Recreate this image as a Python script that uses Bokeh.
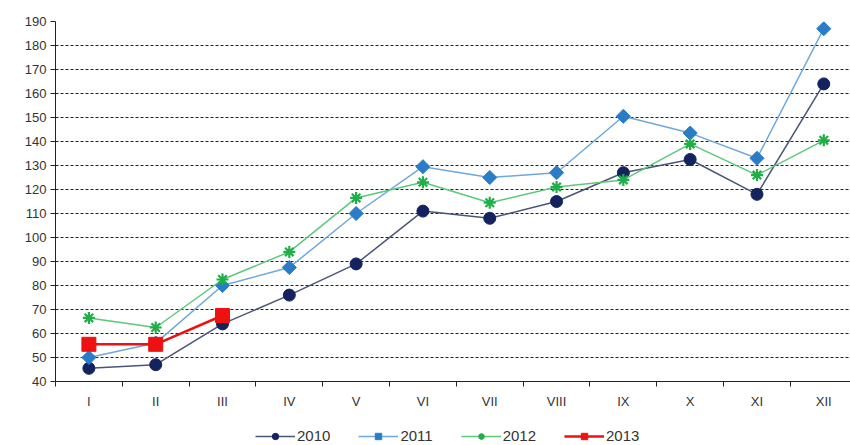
import math
from bokeh.plotting import figure
from bokeh.layouts import column
from bokeh.models import Range1d, FixedTicker, Legend, LegendItem
from bokeh.embed import file_html
from bokeh.resources import INLINE

months = ["I", "II", "III", "IV", "V", "VI", "VII", "VIII", "IX", "X", "XI", "XII"]
y2010 = [45.5, 47, 64, 76, 89, 111, 108, 115, 127, 132.5, 118, 164]
y2011 = [50, 56, 80, 87.5, 110, 129.5, 125, 127, 150.5, 143.5, 133, 187]
y2012 = [66.5, 62.5, 82.5, 94, 116.5, 123, 114.5, 121, 124, 139, 126, 140.5]
y2013 = [55.5, 55.5, 67.5]
years = ["2010", "2011", "2012", "2013"]
y_ticks = list(range(40, 200, 10))

xs = [i + 0.5 for i in range(len(months))]
FONT = "Liberation Sans"

styles = {
    "2010": dict(line=dict(line_color="#4a5578", line_width=1.5),
                 mark=dict(marker="circle", size=12, fill_color="#14235e", line_color="#14235e")),
    "2011": dict(line=dict(line_color="#6fa8dc", line_width=1.5),
                 mark=dict(marker="square", size=10, angle=math.pi / 4,
                           fill_color="#2a7cc7", line_color="#2a7cc7")),
    "2012": dict(line=dict(line_color="#5cc87a", line_width=1.5),
                 mark=dict(marker="asterisk", size=12, line_color="#1fae47", line_width=2.2)),
    "2013": dict(line=dict(line_color="#ee1111", line_width=2.5),
                 mark=dict(marker="square", size=14, fill_color="#ee1111", line_color="#ee1111")),
}

p = figure(width=850, height=411, output_backend="svg", toolbar_location=None,
           x_range=Range1d(0, 11.9), y_range=Range1d(40, 190),
           min_border_left=55, min_border_top=21, min_border_right=0, min_border_bottom=30)
p.outline_line_color = None
p.background_fill_color = "white"
p.border_fill_color = "white"

p.xgrid.visible = False
p.ygrid.ticker = FixedTicker(ticks=y_ticks[1:-1])
p.ygrid.grid_line_color = "#222222"
p.ygrid.grid_line_dash = "3 2"
p.ygrid.grid_line_width = 1.2

p.yaxis.ticker = FixedTicker(ticks=y_ticks)
p.yaxis.axis_line_color = "#222222"
p.yaxis.major_tick_line_color = "#222222"
p.yaxis.major_tick_out = 5
p.yaxis.major_tick_in = 0
p.yaxis.minor_tick_line_color = None
p.yaxis.major_label_text_font = FONT
p.yaxis.major_label_text_font_size = "13px"
p.yaxis.major_label_text_color = "#333333"
p.yaxis.major_label_standoff = 4

p.xaxis.ticker = FixedTicker(ticks=xs, minor_ticks=list(range(0, 13)))
p.xaxis.major_label_overrides = {x: m for x, m in zip(xs, months)}
p.xaxis.axis_line_color = "#222222"
p.xaxis.major_tick_line_color = None
p.xaxis.minor_tick_line_color = "#222222"
p.xaxis.minor_tick_out = 5
p.xaxis.minor_tick_in = 0
p.xaxis.major_label_text_font = FONT
p.xaxis.major_label_text_font_size = "13px"
p.xaxis.major_label_text_color = "#333333"
p.xaxis.major_label_standoff = 6

series = {"2010": (xs, y2010), "2011": (xs, y2011), "2012": (xs, y2012),
          "2013": (xs[:len(y2013)], y2013)}
for yr in years:
    sx, sy = series[yr]
    p.line(sx, sy, **styles[yr]["line"])
    p.scatter(sx, sy, **styles[yr]["mark"])

# legend strip below the chart (its series renderers lie outside its visible ranges)
lf = figure(width=850, height=34, output_backend="svg", toolbar_location=None,
            x_axis_location=None, y_axis_location=None,
            x_range=Range1d(-3, -2), y_range=Range1d(0, 1),
            min_border_left=0, min_border_right=0, min_border_top=0, min_border_bottom=0)
lf.outline_line_color = None
lf.xgrid.visible = False
lf.ygrid.visible = False
items = []
for yr in years:
    sx, sy = series[yr]
    r1 = lf.line(sx, sy, **styles[yr]["line"])
    r2 = lf.scatter(sx, sy, **styles[yr]["mark"])
    items.append(LegendItem(label=yr, renderers=[r1, r2]))
legend = Legend(items=items, orientation="horizontal", label_text_font=FONT,
                label_text_font_size="15px", label_text_color="#333333",
                glyph_width=40, glyph_height=16, spacing=28, padding=0, margin=0,
                border_line_color=None, background_fill_alpha=0, location=(200, 1),
                label_standoff=2, label_height=16)
lf.add_layout(legend, "center")

open("out.html", "w").write(file_html(column(p, lf), INLINE))
